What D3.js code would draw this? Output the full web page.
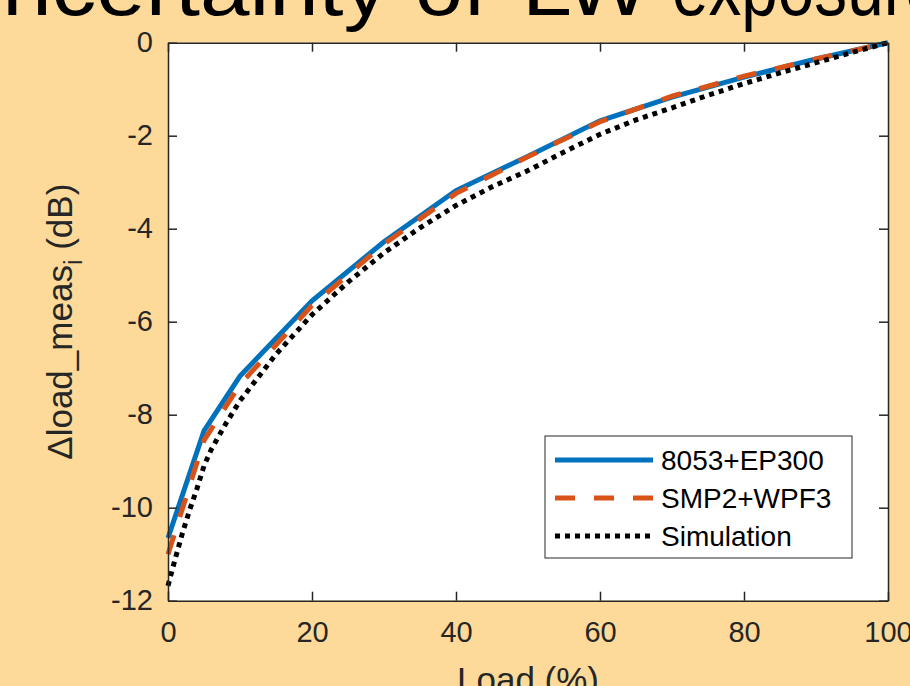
<!DOCTYPE html>
<html>
<head>
<meta charset='utf-8'>
<title>Load measurement uncertainty</title>
<script src='https://d3js.org/d3.v7.min.js'></script>
<style>
    body { margin: 0; background: #feda9a; }
    svg { display: block; }
    .tick-label { font: 29px 'Liberation Sans', Arial, sans-serif; fill: #262626; }
    .axis-title { font: 35px 'Liberation Sans', Arial, sans-serif; fill: #262626; }
    .legend text { font: 28px 'Liberation Sans', Arial, sans-serif; fill: #000; }
    .title { font: 80px 'Liberation Sans', sans-serif; fill: #000; }
</style>
</head>
<body>
<svg id='chart' width='910' height='686'></svg>
<script>
    // load in percent
    const loadMeas = [0, 5, 10, 20, 30, 40, 50, 60, 70, 80, 90, 100];
    const ep300 = [-10.65, -8.35, -7.17, -5.55, -4.28, -3.18, -2.44, -1.68, -1.17, -0.74, -0.35, 0];
    const wpf3 = [-11.0, -8.55, -7.35, -5.65, -4.33, -3.24, -2.45, -1.7, -1.15, -0.72, -0.35, 0];

    const loadSim = [0, 1, 2, 3, 4, 5, 6, 8, 10, 12, 15, 20, 25, 30, 35, 40, 45, 50, 55, 60, 65, 70, 75, 80, 85, 90, 95, 100];
    const simulation = [-11.68, -11.1, -10.55, -10.05, -9.6, -9.1, -8.75, -8.2, -7.7, -7.3, -6.7, -5.85, -5.15, -4.52, -3.98, -3.5, -3.1, -2.75, -2.35, -1.97, -1.66, -1.4, -1.13, -0.88, -0.65, -0.43, -0.21, 0];

    const xTicks = [0, 20, 40, 60, 80, 100];
    const yTicks = [0, -2, -4, -6, -8, -10, -12];

    const seriesNames = ['8053+EP300', 'SMP2+WPF3', 'Simulation'];
    const seriesColors = ['#0072bd', '#d95319', '#000000'];
    const seriesDash = [null, '20,19', '5,5'];

    const titleWords = ['Uncertainty', 'of', 'LW', 'exposure'];

    const svg = d3.select('#chart');
    const margin = {top: 42.7, right: 22, bottom: 85.3, left: 168};
    const width = 910 - margin.left - margin.right;
    const height = 686 - margin.top - margin.bottom;

    // cut-off slide title behind the chart, laid out word by word
    const titleX = [-62, 415, 522, 672];
    const titleLen = [450, 72, 128, 270];
    const title = svg.append('text')
        .attr('class', 'title')
        .attr('y', 15);
    titleWords.forEach(function(w, i) {
        title.append('tspan')
            .attr('x', titleX[i])
            .attr('textLength', titleLen[i])
            .attr('lengthAdjust', 'spacingAndGlyphs')
            .text(w);
    });

    const x = d3.scaleLinear().domain([0, 100]).range([0, width]);
    const y = d3.scaleLinear().domain([-12, 0]).range([height, 0]);

    const g = svg.append('g')
        .attr('transform', 'translate(' + margin.left + ',' + margin.top + ')');

    g.append('rect')
        .attr('width', width)
        .attr('height', height)
        .attr('fill', '#fff');

    const line = d3.line()
        .x(function(d) { return x(d[0]); })
        .y(function(d) { return y(d[1]); });

    const seriesData = [
        d3.zip(loadMeas, ep300),
        d3.zip(loadMeas, wpf3),
        d3.zip(loadSim, simulation)
    ];

    seriesData.forEach(function(data, i) {
        g.append('path')
            .datum(data)
            .attr('fill', 'none')
            .attr('stroke', seriesColors[i])
            .attr('stroke-width', 5)
            .attr('stroke-dasharray', seriesDash[i])
            .attr('d', line);
    });

    // axes, matlab style: box with ticks pointing inwards on all sides
    const tickLen = 9;
    const plain = function(d) { return String(d); };
    const axisStyle = function(sel) {
        sel.select('.domain').attr('stroke', '#262626').attr('stroke-width', 1.5);
        sel.selectAll('.tick line').attr('stroke', '#262626').attr('stroke-width', 1.5);
        sel.selectAll('.tick text').attr('class', 'tick-label');
        sel.attr('font-family', null).attr('font-size', null);
    };

    g.append('g')
        .attr('transform', 'translate(0,' + height + ')')
        .call(d3.axisBottom(x).tickValues(xTicks).tickFormat(plain).tickSizeInner(-tickLen).tickSizeOuter(0).tickPadding(21))
        .call(axisStyle);

    g.append('g')
        .call(d3.axisTop(x).tickValues(xTicks).tickSizeInner(-tickLen).tickSizeOuter(0).tickFormat(''))
        .call(axisStyle);

    g.append('g')
        .call(d3.axisLeft(y).tickValues(yTicks).tickFormat(plain).tickSizeInner(-tickLen).tickSizeOuter(0).tickPadding(15))
        .call(axisStyle);

    g.append('g')
        .attr('transform', 'translate(' + width + ',0)')
        .call(d3.axisRight(y).tickValues(yTicks).tickSizeInner(-tickLen).tickSizeOuter(0).tickFormat(''))
        .call(axisStyle);

    // axis titles
    const yTitle = svg.append('text')
        .attr('class', 'axis-title')
        .attr('transform', 'translate(72,' + (margin.top + height / 2) + ') rotate(-90)')
        .attr('text-anchor', 'middle');
    yTitle.append('tspan').text('\u0394load_meas');
    yTitle.append('tspan').attr('font-size', '25px').attr('dy', 10).text('i');
    yTitle.append('tspan').attr('dy', -10).text('\u00a0(dB)');

    svg.append('text')
        .attr('class', 'axis-title')
        .attr('x', margin.left + width / 2)
        .attr('y', 692)
        .attr('text-anchor', 'middle')
        .text('Load (%)');

    // legend
    const legend = svg.append('g')
        .attr('class', 'legend')
        .attr('transform', 'translate(545,436)');

    legend.append('rect')
        .attr('width', 307)
        .attr('height', 122)
        .attr('fill', '#fff')
        .attr('stroke', '#262626')
        .attr('stroke-width', 1);

    seriesNames.forEach(function(name, i) {
        const rowY = 24 + i * 38;
        legend.append('line')
            .attr('x1', 10)
            .attr('x2', 108)
            .attr('y1', rowY)
            .attr('y2', rowY)
            .attr('stroke', seriesColors[i])
            .attr('stroke-width', 5)
            .attr('stroke-dasharray', seriesDash[i]);
        legend.append('text')
            .attr('x', 116)
            .attr('y', rowY)
            .attr('dy', '0.35em')
            .text(name);
    });
</script>
</body>
</html>
